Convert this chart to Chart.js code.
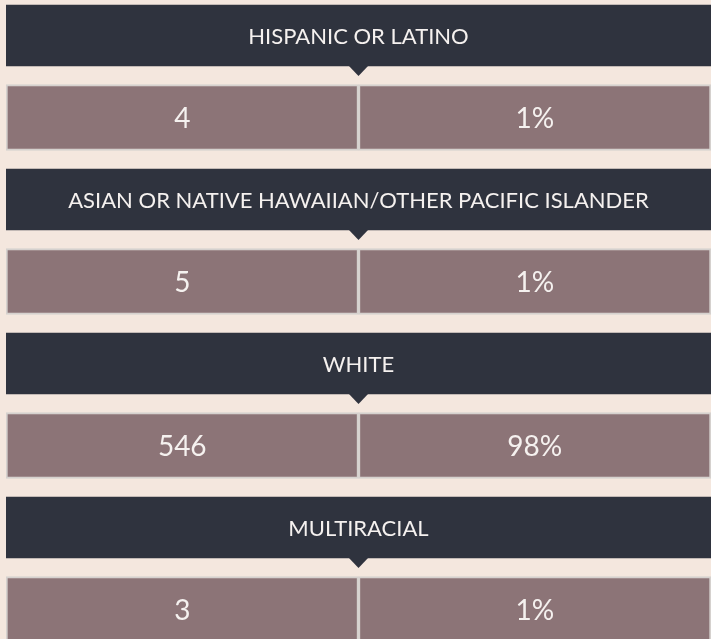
<!DOCTYPE html>
<html>
<head>
<meta charset="utf-8">
<script src="https://cdn.jsdelivr.net/npm/chart.js@4"></script>
<style>
  html, body { margin: 0; padding: 0; background: #f4e7de; }
  .wrap { width: 711px; height: 639px; position: relative; }
</style>
</head>
<body>
<div class="wrap"><canvas id="chart"></canvas></div>
<script>
const groups = ['HISPANIC OR LATINO', 'ASIAN OR NATIVE HAWAIIAN/OTHER PACIFIC ISLANDER', 'WHITE', 'MULTIRACIAL'];
const counts = [4, 5, 546, 3];
const percents = [1, 1, 98, 1];

const headerColor = '#2f333e';
const cellColor = '#8c7477';
const cellBorder = '#d5d1ce';
const textColor = '#f5f1ef';

// headers sit on even rows, the value cells on the odd row under them
const headerData = groups.map((g, i) => ({ y: i * 2, x: [0, 2] }));
const countData = counts.map((v, i) => ({ y: i * 2 + 1, x: [0, 1] }));
const pctData = percents.map((v, i) => ({ y: i * 2 + 1, x: [1, 2] }));

const labelPlugin = {
  id: 'labels',
  afterDatasetsDraw(chart) {
    const ctx = chart.ctx;
    ctx.save();
    ctx.textAlign = 'center';
    ctx.textBaseline = 'middle';

    // header text + little pointer under each header
    chart.getDatasetMeta(0).data.forEach((bar, i) => {
      const cx = (bar.x + bar.base) / 2;
      const bottom = bar.y + bar.height / 2;
      ctx.fillStyle = headerColor;
      ctx.beginPath();
      ctx.moveTo(cx - 10.5, bottom - 1);
      ctx.lineTo(cx + 10.5, bottom - 1);
      ctx.lineTo(cx, bottom + 10);
      ctx.closePath();
      ctx.fill();
      ctx.fillStyle = textColor;
      ctx.font = '22px Lato';
      ctx.fillText(groups[i], cx, bar.y + 1);
    });

    ctx.fillStyle = textColor;
    ctx.font = '28px Lato';
    chart.getDatasetMeta(1).data.forEach((bar, i) => {
      ctx.fillText(String(counts[i]), (bar.x + bar.base) / 2, bar.y + 1);
    });
    chart.getDatasetMeta(2).data.forEach((bar, i) => {
      ctx.fillText(percents[i] + '%', (bar.x + bar.base) / 2, bar.y + 1);
    });
    ctx.restore();
  }
};

new Chart(document.getElementById('chart'), {
  type: 'bar',
  data: {
    datasets: [
      { data: headerData, backgroundColor: headerColor, barThickness: 61, grouped: false, borderWidth: 0 },
      { data: countData, backgroundColor: cellColor, borderColor: cellBorder, borderWidth: 2, borderSkipped: false, barThickness: 66, grouped: false },
      { data: pctData, backgroundColor: cellColor, borderColor: cellBorder, borderWidth: 2, borderSkipped: false, barThickness: 66, grouped: false }
    ]
  },
  options: {
    indexAxis: 'y',
    responsive: true,
    maintainAspectRatio: false,
    animation: false,
    layout: { padding: { left: 6, right: 0, top: 0, bottom: 0 } },
    scales: {
      x: { type: 'linear', min: 0, max: 2, display: false },
      y: { type: 'linear', min: -0.433, max: 7.36, reverse: true, offset: false, display: false }
    },
    plugins: { legend: { display: false }, tooltip: { enabled: false } }
  },
  plugins: [labelPlugin]
});
</script>
</body>
</html>
